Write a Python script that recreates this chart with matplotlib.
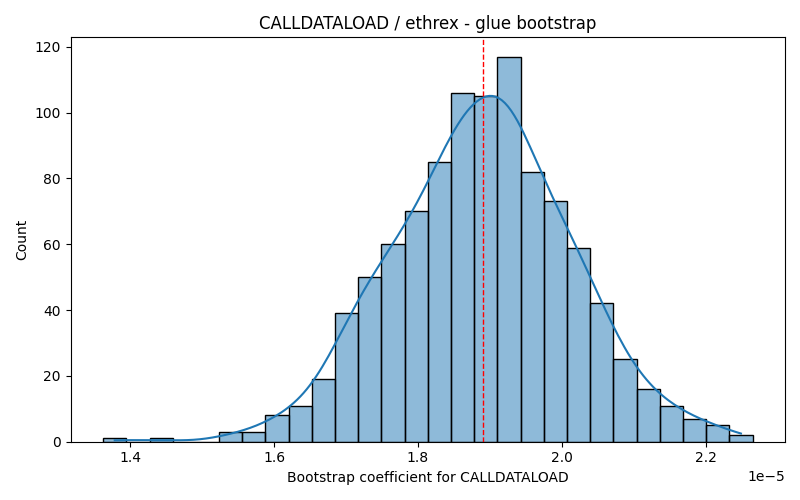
import numpy as np
import matplotlib
matplotlib.use("Agg")
import matplotlib.pyplot as plt
import seaborn as sns

bin_start = 1.3625e-5
bin_end = 2.265e-5
counts = [1, 0, 1, 0, 0, 3, 3, 8, 11, 19, 39, 50, 60, 70, 85, 106, 105, 117,
          82, 73, 59, 42, 25, 16, 11, 7, 5, 2]
point_estimate = 1.890e-5

edges = np.linspace(bin_start, bin_end, len(counts) + 1)
centers = (edges[:-1] + edges[1:]) / 2
values = np.repeat(centers, counts)

fig, ax = plt.subplots(figsize=(8, 5), dpi=100)
sns.histplot(x=values, bins=edges, kde=True, kde_kws={"bw_adjust": 1.1}, ax=ax)
ax.axvline(point_estimate, color="red", linestyle="--", linewidth=1)
ax.set_title("CALLDATALOAD / ethrex - glue bootstrap")
ax.set_xlabel("Bootstrap coefficient for CALLDATALOAD")
ax.set_ylabel("Count")
fig.tight_layout()
fig.savefig("out.png")
